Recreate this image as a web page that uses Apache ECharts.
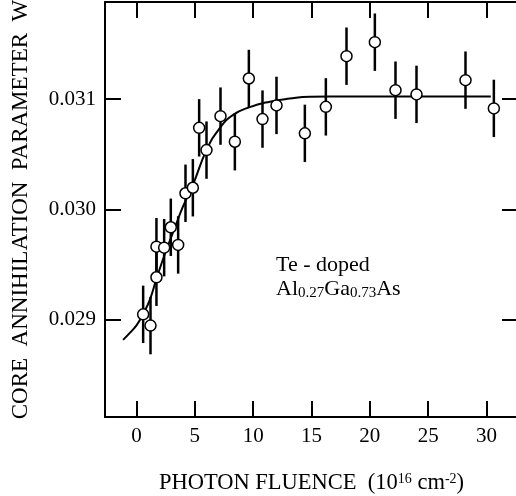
<!DOCTYPE html>
<html>
<head>
<meta charset="utf-8">
<script src="https://cdn.jsdelivr.net/npm/echarts@6/dist/echarts.min.js"></script>
<style>
  html, body { margin: 0; padding: 0; background: #fff; }
  #chart { width: 516px; height: 496px; }
</style>
</head>
<body>
<div id="chart"></div>
<script>
// ---- data ----
var fluence = [0.57, 1.2, 1.71, 1.71, 2.37, 2.94, 3.57, 4.2, 4.83, 5.37, 6.0, 7.2,
               8.43, 9.63, 10.8, 12.0, 14.43, 16.23, 18.0, 20.43, 22.2, 24.0, 28.2, 30.63];
var wParam = [0.02905, 0.028948, 0.029386, 0.029663, 0.029654, 0.029839, 0.029679, 0.030147,
              0.030197, 0.03074, 0.030538, 0.030846, 0.030614, 0.031187, 0.030819, 0.030943,
              0.03069, 0.03093, 0.031389, 0.031516, 0.031081, 0.031043, 0.031172, 0.030916];
var wError = [0.00026, 0.00026, 0.00026, 0.00026, 0.00026, 0.00026, 0.00026, 0.00026,
              0.00026, 0.00026, 0.00026, 0.00026, 0.00026, 0.00026, 0.00026, 0.00026,
              0.00026, 0.00026, 0.00026, 0.00026, 0.00026, 0.00026, 0.00026, 0.00026];
// fitted curve
var fitX = [-1.15, -0.57, 0.03, 0.57, 1.14, 1.71, 2.43, 3.28, 3.97, 4.83, 6.0, 7.14,
            8.25, 9.71, 11.43, 13.14, 14.85, 18.28, 30.37];
var fitW = [0.028819, 0.028882, 0.028955, 0.029054, 0.029181, 0.029371, 0.029597, 0.029833,
            0.030023, 0.030222, 0.030538, 0.030738, 0.030855, 0.030928, 0.030977, 0.031005,
            0.031021, 0.031023, 0.031023];
var xTicks = [0, 5, 10, 15, 20, 25, 30];
var yTicks = [0.029, 0.030, 0.031];

// ---- build chart ----
var FONT = '"Liberation Serif", "Times New Roman", serif';
var pts = fluence.map(function (x, i) { return [x, wParam[i], wError[i]]; });
var fit = fitX.map(function (x, i) { return [x, fitW[i]]; });

var axisLineStyle = { color: '#000', width: 2 };
function xAx(pos, showLabel) {
  return {
    type: 'value', position: pos, min: -2.7, max: 32.7,
    axisLine: { show: true, onZero: false, lineStyle: axisLineStyle },
    axisTick: { show: true, inside: true, length: 16, customValues: xTicks, lineStyle: { color: '#000', width: 2 } },
    axisLabel: { show: showLabel, customValues: xTicks, margin: 9, color: '#000', fontFamily: FONT, fontSize: 21 },
    splitLine: { show: false }
  };
}
function yAx(pos, showLabel) {
  return {
    type: 'value', position: pos, min: 0.02812, max: 0.03188,
    axisLine: { show: true, onZero: false, lineStyle: axisLineStyle },
    axisTick: { show: true, inside: true, length: 16, customValues: yTicks, lineStyle: { color: '#000', width: 2 } },
    axisLabel: { show: showLabel, customValues: yTicks, margin: 9, color: '#000', fontFamily: FONT, fontSize: 21,
                 formatter: function (v) { return v.toFixed(3); } },
    splitLine: { show: false }
  };
}
var xb = xAx('bottom', true);
xb.name = 'PHOTON FLUENCE  (10{sup|16} cm{sup|-2})';
xb.nameLocation = 'middle';
xb.nameGap = 55;
xb.nameTextStyle = { color: '#000', fontFamily: FONT, fontSize: 22.5,
  rich: { sup: { fontFamily: FONT, fontSize: 14, color: '#000', verticalAlign: 'top' } } };
var yl = yAx('left', true);
yl.name = 'CORE  ANNIHILATION  PARAMETER  W';
yl.nameLocation = 'middle';
yl.nameRotate = 90;
yl.nameGap = 73;
yl.nameTextStyle = { color: '#000', fontFamily: FONT, fontSize: 23 };

var chart = echarts.init(document.getElementById('chart'), null, { renderer: 'canvas' });
chart.setOption({
  animation: false,
  backgroundColor: '#fff',
  grid: { left: 105, right: -2, top: 2, bottom: 79, outerBoundsMode: 'none', containLabel: false },
  xAxis: [xb, xAx('top', false)],
  yAxis: [yl, yAx('right', false)],
  graphic: [{
    type: 'text', left: 276, top: 253,
    style: {
      text: 'Te - doped\n{n|Al}{s|0.27}{n|Ga}{s|0.73}{n|As}',
      fill: '#000', font: '22px ' + FONT, lineHeight: 24,
      rich: {
        n: { fontFamily: FONT, fontSize: 22, fill: '#000', lineHeight: 24 },
        s: { fontFamily: FONT, fontSize: 15, fill: '#000', verticalAlign: 'bottom', lineHeight: 24 }
      }
    }
  }],
  series: [
    {
      type: 'custom', xAxisIndex: 0, yAxisIndex: 0, z: 2,
      renderItem: function (params, api) {
        var x = api.value(0), y = api.value(1), e = api.value(2);
        var p1 = api.coord([x, y - e]), p2 = api.coord([x, y + e]);
        return { type: 'line', shape: { x1: p1[0], y1: p1[1], x2: p2[0], y2: p2[1] },
                 style: { stroke: '#000', lineWidth: 2.5 } };
      },
      data: pts
    },
    {
      type: 'line', xAxisIndex: 0, yAxisIndex: 0, z: 3, data: fit, smooth: true,
      showSymbol: false, symbol: 'none', lineStyle: { color: '#000', width: 2 }
    },
    {
      type: 'scatter', xAxisIndex: 0, yAxisIndex: 0, z: 4,
      data: pts.map(function (p) { return [p[0], p[1]]; }),
      symbol: 'circle', symbolSize: 11,
      itemStyle: { color: '#fff', borderColor: '#000', borderWidth: 1.5, opacity: 1 }
    }
  ]
});
</script>
</body>
</html>
